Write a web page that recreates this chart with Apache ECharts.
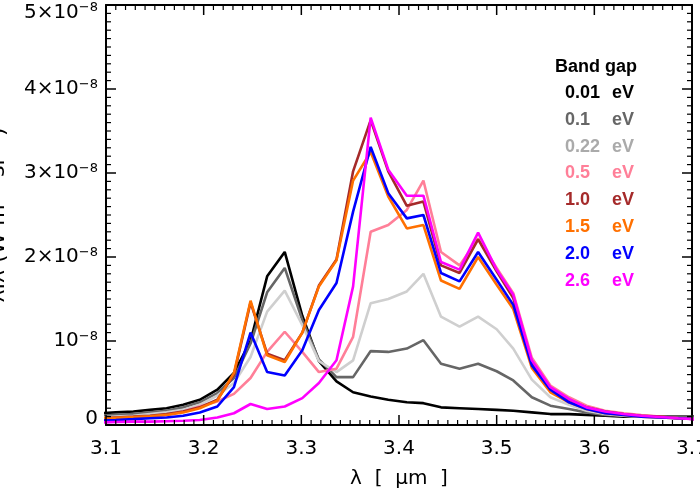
<!DOCTYPE html>
<html><head><meta charset="utf-8">
<script src="https://cdn.jsdelivr.net/npm/echarts@6/dist/echarts.min.js"></script>
<style>html,body{margin:0;padding:0;background:#fff}#c{width:700px;height:500px}</style>
</head><body><div id="c"></div>
<script>
// wavelength grid (micron)
const lambda = [3.093,3.110,3.128,3.145,3.162,3.179,3.196,3.214,3.231,3.248,3.265,3.283,3.301,3.318,3.336,3.353,3.371,3.389,3.408,3.425,3.443,3.462,3.481,3.500,3.517,3.536,3.555,3.574,3.592,3.611,3.630,3.648,3.667,3.686,3.705];
// band gap labels (eV)
const gapLabels = ['0.01','0.1','0.22','0.5','1.0','1.5','2.0','2.6'];
// values in units of 1e-8
const eg001 = [0.14,0.15,0.16,0.18,0.20,0.24,0.30,0.42,0.62,1.00,1.77,2.06,1.30,0.76,0.52,0.39,0.34,0.30,0.27,0.26,0.21,0.20,0.19,0.18,0.17,0.15,0.13,0.13,0.12,0.11,0.10,0.10,0.10,0.10,0.10];
const eg01  = [0.11,0.12,0.13,0.15,0.17,0.21,0.27,0.38,0.56,0.97,1.58,1.87,1.25,0.78,0.57,0.57,0.88,0.87,0.91,1.01,0.73,0.67,0.73,0.64,0.53,0.33,0.23,0.19,0.15,0.12,0.11,0.10,0.10,0.10,0.10];
const eg022 = [0.09,0.10,0.11,0.13,0.15,0.18,0.24,0.35,0.50,0.81,1.35,1.60,1.19,0.76,0.63,0.77,1.45,1.50,1.59,1.80,1.29,1.17,1.29,1.14,0.91,0.54,0.33,0.24,0.17,0.13,0.11,0.10,0.09,0.08,0.08];
const eg05  = [0.07,0.08,0.09,0.10,0.12,0.16,0.22,0.28,0.37,0.56,0.87,1.11,0.87,0.63,0.67,1.05,2.30,2.38,2.56,2.91,2.06,1.90,2.22,1.87,1.57,0.80,0.47,0.33,0.23,0.17,0.14,0.12,0.10,0.08,0.07];
const eg10  = [0.08,0.09,0.10,0.11,0.13,0.16,0.21,0.30,0.60,1.46,0.85,0.77,1.10,1.66,1.97,3.02,3.63,3.02,2.61,2.66,1.90,1.81,2.21,1.83,1.51,0.75,0.44,0.30,0.21,0.16,0.13,0.11,0.10,0.08,0.07];
const eg15  = [0.08,0.085,0.095,0.105,0.12,0.15,0.20,0.29,0.62,1.48,0.83,0.75,1.10,1.65,1.96,2.91,3.25,2.72,2.34,2.38,1.72,1.62,2.00,1.67,1.38,0.68,0.39,0.27,0.19,0.14,0.12,0.10,0.09,0.08,0.07];
const eg20  = [0.055,0.06,0.07,0.08,0.09,0.11,0.15,0.22,0.45,1.10,0.63,0.59,0.89,1.37,1.69,2.54,3.31,2.76,2.46,2.50,1.81,1.71,2.06,1.73,1.43,0.71,0.42,0.27,0.19,0.14,0.12,0.10,0.09,0.08,0.07];
const eg26  = [0.03,0.035,0.04,0.04,0.045,0.05,0.06,0.09,0.14,0.25,0.19,0.22,0.32,0.50,0.77,1.65,3.66,3.04,2.73,2.73,1.94,1.85,2.29,1.85,1.55,0.77,0.45,0.31,0.21,0.16,0.13,0.11,0.095,0.08,0.068];
const allSeries = [eg001, eg01, eg022, eg05, eg10, eg15, eg20, eg26];
const lineColors = ['#000000','#666666','#cfcfcf','#ff7f98','#a52a2a','#ff7000','#0000ff','#ff00ff'];
const textColors = ['#000000','#666666','#aaaaaa','#ff7f98','#a52a2a','#ff7000','#0000ff','#ff00ff'];

const X_MIN = 3.1, X_MAX = 3.7, Y_MIN = 0, Y_MAX = 5;
const FONT = 'DejaVu Sans';
const chart = echarts.init(document.getElementById('c'), null, {renderer:'canvas'});

const series = allSeries.map((vals, i) => ({
  type: 'line', name: gapLabels[i] + ' eV',
  data: lambda.map((x, j) => [x, vals[j]]),
  showSymbol: false, symbol: 'none', clip: true,
  lineStyle: {color: lineColors[i], width: 2.6},
  z: 2 + i, animation: false
}));

// inward tick marks on all four sides (major every 0.1 / 1, minor every 0.01 / 0.1)
const xTickData = [];
for (let k = 310; k <= 370; k++) xTickData.push([k / 100, Y_MIN, k % 10 === 0 ? 1 : 0]);
const yTickData = [];
for (let k = 0; k <= 50; k++) yTickData.push([X_MIN, k / 10, k % 10 === 0 ? 1 : 0]);

series.push({
  type: 'custom', silent: true, clip: false, z: 20, animation: false,
  data: xTickData, encode: {x: 0, y: 1},
  renderItem: (params, api) => {
    const v = api.value(0), major = api.value(2) === 1;
    const len = major ? 10 : 5, lw = major ? 1.5 : 1.2;
    const b = api.coord([v, Y_MIN]), t = api.coord([v, Y_MAX]);
    return {type: 'group', children: [
      {type: 'line', shape: {x1: b[0], y1: b[1], x2: b[0], y2: b[1] - len}, style: {stroke: '#000', lineWidth: lw}},
      {type: 'line', shape: {x1: t[0], y1: t[1], x2: t[0], y2: t[1] + len}, style: {stroke: '#000', lineWidth: lw}}
    ]};
  }
});
series.push({
  type: 'custom', silent: true, clip: false, z: 20, animation: false,
  data: yTickData, encode: {x: 0, y: 1},
  renderItem: (params, api) => {
    const v = api.value(1), major = api.value(2) === 1;
    const len = major ? 10 : 5, lw = major ? 1.5 : 1.2;
    const l = api.coord([X_MIN, v]), r = api.coord([X_MAX, v]);
    return {type: 'group', children: [
      {type: 'line', shape: {x1: l[0], y1: l[1], x2: l[0] + len, y2: l[1]}, style: {stroke: '#000', lineWidth: lw}},
      {type: 'line', shape: {x1: r[0], y1: r[1], x2: r[0] - len, y2: r[1]}, style: {stroke: '#000', lineWidth: lw}}
    ]};
  }
});

const axisCommon = {
  axisLine: {show: true, onZero: false, lineStyle: {color: '#000', width: 2}},
  axisTick: {show: false},
  minorTick: {show: false},
  splitLine: {show: false}
};

const graphic = [{
  type: 'text', left: 555, top: 58,
  style: {text: 'Band gap', fill: '#000', font: 'bold 18px "Liberation Sans"'}
}];
gapLabels.forEach((g, i) => {
  const y = 84 + i * 26.8;
  graphic.push({type: 'text', left: 565, top: y, style: {text: g, fill: textColors[i], font: 'bold 18px "Liberation Sans"'}});
  graphic.push({type: 'text', left: 612, top: y, style: {text: 'eV', fill: textColors[i], font: 'bold 18px "Liberation Sans"'}});
});

chart.setOption({
  animation: false,
  backgroundColor: '#fff',
  grid: {left: 106, right: 8, top: 5, bottom: 75, containLabel: false, outerBoundsMode: 'none'},
  graphic: graphic,
  xAxis: [Object.assign({
    type: 'value', position: 'bottom', min: X_MIN, max: X_MAX, interval: 0.1,
    name: 'λ  [  µm  ]', nameLocation: 'middle', nameGap: 44, nameMoveOverlap: false,
    nameTextStyle: {fontFamily: FONT, fontSize: 20, color: '#000'},
    axisLabel: {margin: 14, fontFamily: FONT, fontSize: 20, color: '#000',
      formatter: v => v.toFixed(1)}
  }, axisCommon), Object.assign({
    type: 'value', position: 'top', min: X_MIN, max: X_MAX, interval: 0.1,
    axisLabel: {show: false}
  }, axisCommon)],
  yAxis: [Object.assign({
    type: 'value', position: 'left', min: Y_MIN, max: Y_MAX, interval: 1,
    name: 'λI\u03bb (W m\u207b\u00b2 sr\u207b\u00b9)', nameLocation: 'middle', nameRotate: 90, nameGap: 97,
    nameMoveOverlap: false,
    nameTextStyle: {fontFamily: FONT, fontSize: 22, color: '#000'},
    axisLabel: {margin: 8, color: '#000',
      formatter: v => v === 0 ? '{z|0}' : (v === 1 ? '{b|10}{s|\u22128}' :
        (v === 5 ? '{g| }\n{b|5×10}{s|\u22128}' : '{b|' + v + '×10}{s|\u22128}')),
      rich: {
        b: {fontFamily: FONT, fontSize: 20, color: '#000', lineHeight: 22},
        s: {fontFamily: FONT, fontSize: 13, color: '#000', verticalAlign: 'top', lineHeight: 22, padding: [0,0,8,0]},
        g: {fontSize: 10, lineHeight: 15},
        z: {fontFamily: FONT, fontSize: 20, color: '#000', lineHeight: 22, padding: [0,0,12,0]}
      }}
  }, axisCommon), Object.assign({
    type: 'value', position: 'right', min: Y_MIN, max: Y_MAX, interval: 1,
    axisLabel: {show: false}
  }, axisCommon)],
  series: series
});
</script></body></html>
